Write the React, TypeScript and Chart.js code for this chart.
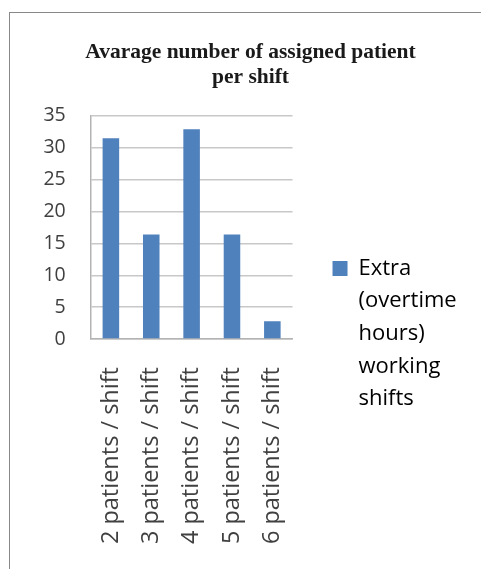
import { useEffect, useRef } from "react";
import Chart from "chart.js/auto";

const categories = [
  "2 patients / shift",
  "3 patients / shift",
  "4 patients / shift",
  "5 patients / shift",
  "6 patients / shift",
];
const overtimeShifts = [31.5, 16.4, 32.9, 16.4, 2.8];
const seriesLabel = ["Extra", "(overtime", "hours)", "working", "shifts"];
const titleLines = ["Avarage number of assigned patient", "per shift"];

// canvas runs below the visible page so the right-hand legend centres lower
const CANVAS_H = 678;

export default function App() {
  const canvasRef = useRef<HTMLCanvasElement | null>(null);

  useEffect(() => {
    if (!canvasRef.current) return;
    const c = new Chart(canvasRef.current, {
      type: "bar",
      data: {
        labels: categories,
        datasets: [
          {
            label: seriesLabel.join(" "),
            data: overtimeShifts,
            backgroundColor: "#4f81bd",
            borderWidth: 0,
            barPercentage: 0.41,
            categoryPercentage: 1,
          },
        ],
      },
      options: {
        responsive: false,
        animation: false,
        layout: { padding: { left: 34.3, right: 14.3, top: 0, bottom: 0 } },
        plugins: {
          tooltip: { enabled: false },
          title: {
            display: true,
            text: titleLines,
            color: "#1a1a1a",
            font: { family: "'Liberation Serif', serif", size: 21.5, weight: "bold", lineHeight: 1.16 },
            padding: { top: 40, bottom: 26 },
          },
          legend: {
            position: "right",
            maxWidth: 300,
            labels: {
              color: "#404040",
              boxWidth: 15,
              boxHeight: 15,
              padding: 40,
              font: { family: "'Open Sans', sans-serif", size: 22, lineHeight: 1.48 },
              generateLabels: () => [
                {
                  text: seriesLabel as any,
                  fillStyle: "#4f81bd",
                  strokeStyle: "#4f81bd",
                  lineWidth: 0,
                  hidden: false,
                  datasetIndex: 0,
                },
              ],
            },
          },
        },
        scales: {
          x: {
            grid: { display: false, drawTicks: false },
            border: { color: "#b3b3b3", width: 1.5 },
            afterFit: (s: any) => {
              s.height = CANVAS_H - 339;
            },
            ticks: {
              color: "#404040",
              padding: 28,
              minRotation: 90,
              maxRotation: 90,
              autoSkip: false,
              font: { family: "'Open Sans', sans-serif", size: 23.5 },
            },
          },
          y: {
            min: 0,
            max: 35,
            grid: { color: "#c8c8c8", lineWidth: 1.5, drawTicks: false },
            border: { color: "#b3b3b3", width: 1.5 },
            afterFit: (s: any) => {
              s.width = 56.4;
            },
            ticks: {
              stepSize: 5,
              color: "#404040",
              padding: 25,
              font: { family: "'Open Sans', sans-serif", size: 19.5 },
            },
          },
        },
      },
    });
    return () => c.destroy();
  }, []);

  return (
    <div style={{ position: "fixed", left: 0, top: 0, width: 481, height: 569, overflow: "hidden", background: "#fff" }}>
      <div
        style={{
          position: "absolute",
          left: 9,
          top: 12,
          width: 520,
          height: 700,
          borderLeft: "1.5px solid #888",
          borderTop: "1.5px solid #888",
        }}
      />
      <canvas ref={canvasRef} width={481} height={CANVAS_H} style={{ position: "absolute", left: 0, top: 0 }} />
    </div>
  );
}
